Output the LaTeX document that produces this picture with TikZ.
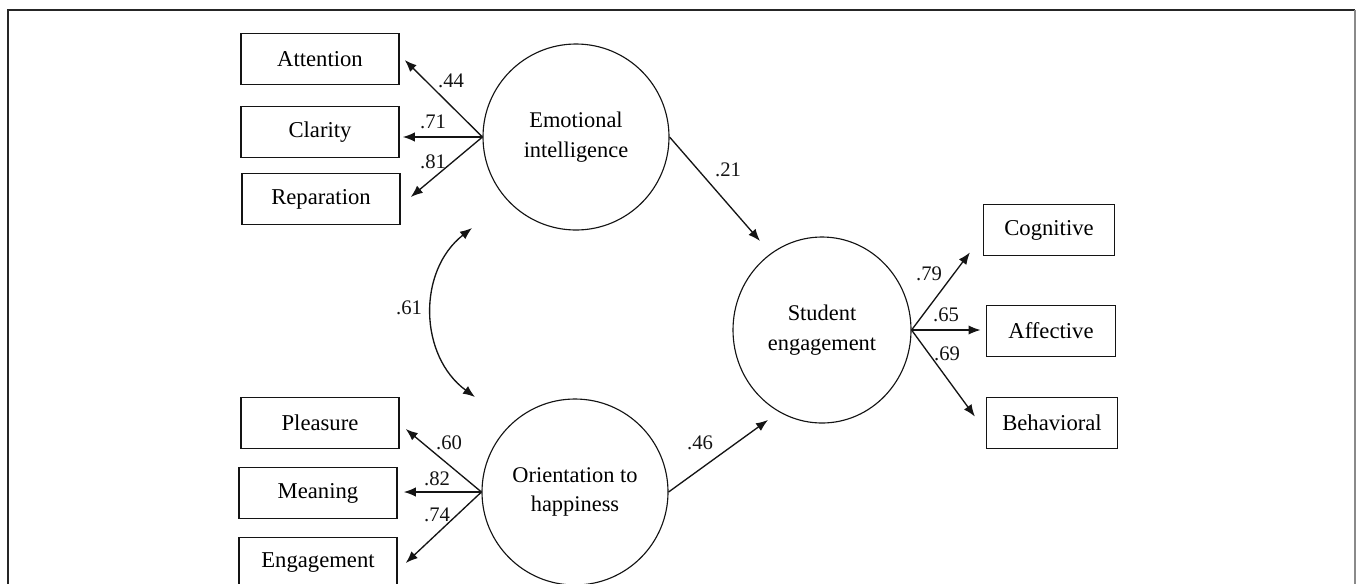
\documentclass[tikz,border=0pt]{standalone}
\usepackage{fontspec}
\setmainfont{Liberation Serif}
\usepackage{xcolor}
\usepackage{tikz}
\usetikzlibrary{positioning,arrows.meta,calc,shapes.geometric}
\definecolor{ink}{HTML}{141414}
\definecolor{framedark}{HTML}{262626}
\definecolor{framegray}{HTML}{8A8A8A}
\tikzset{
  indic/.style   = {rectangle, draw=ink, line width=1.15pt, minimum width=#1, minimum height=38.5pt,
                    inner sep=0pt, align=center, font=\fontsize{17}{20}\selectfont},
  indic/.default = 118.5pt,
  latent/.style  = {circle, draw=ink, line width=0.85pt, minimum size=139.5pt, inner sep=0pt,
                    align=center, font=\fontsize{16.8}{22}\selectfont},
  load/.style    = {-{Latex[length=9pt, width=7pt]}, line width=1pt, draw=ink},
  cov/.style     = {{Latex[length=9pt, width=7pt]}-{Latex[length=9pt, width=7pt]}, line width=1pt, draw=ink},
  coef/.style    = {font=\fontsize{15.5}{18}\selectfont, text=ink, inner sep=0pt},
}

\begin{document}
\begin{tikzpicture}[x=0.75pt, y=-0.75pt]
  \useasboundingbox (0,0) rectangle (1358,583);

  %% ---------------- frame ---------------------------------------------------------------
  \draw[framedark, line width=1.4pt] (8,620) -- (8,10) -- (1355,10);
  \draw[framegray, line width=1.8pt] (1355,10) -- (1355,620);

  %% ---------------- latent variables ----------------------------------------------------
  \node[latent] (emo) at (576,137) {Emotional\\intelligence};
  \node[latent] (ori) at (575,492) {Orientation to\\happiness};
  \node[latent, ellipse, minimum width=133.5pt, minimum height=139.5pt] (stud) at (822,330)
    {Student\\engagement};

  %% ---------------- indicators ----------------------------------------------------------
  \node[indic] (attn)  at (320,59)  {Attention};
  \node[indic] (clar)  at (320,132) {Clarity};
  \node[indic] (rep)   at (321,199) {Reparation};
  \node[indic] (pleas) at (320,423) {Pleasure};
  \node[indic] (mean)  at (318,493) {Meaning};
  \node[indic] (eng)   at (318,563) {Engagement};

  \node[indic=98pt] (cog) at (1049,230) {Cognitive};
  \node[indic=97pt] (aff) at (1051,331) {Affective};
  \node[indic=98pt] (beh) at (1052,423) {Behavioral};

  %% ---------------- loadings ------------------------------------------------------------
  \draw[load] (emo.west) -- ($(attn.east)+(5,1)$);
  \draw[load] (emo.west) -- ($(clar.east)+(3,5)$);
  \draw[load] (emo.west) -- ($(rep.east)+(10,-2)$);
  \node[coef] (l44) at (451,81)  {.44};
  \node[coef] (l71) at (433,122) {.71};
  \node[coef] (l81) at (433,162) {.81};

  \draw[load] (ori.west) -- ($(pleas.east)+(6,6)$);
  \draw[load] (ori.west) -- ($(mean.east)+(6,-1)$);
  \draw[load] (ori.west) -- ($(eng.east)+(8,0)$);
  \node[coef] (l60) at (449,443) {.60};
  \node[coef] (l82) at (437,479) {.82};
  \node[coef] (l74) at (437,515) {.74};

  \draw[load] (stud.east) -- ($(cog.south west)+(-13,-4)$);
  \draw[load] (stud.east) -- ($(aff.west)+(-5,-1)$);
  \draw[load] (stud.east) -- ($(beh.north west)+(-11,20)$);
  \node[coef] (l79) at (929,274) {.79};
  \node[coef] (l65) at (946,315) {.65};
  \node[coef] (l69) at (947,354) {.69};

  %% ---------------- structural paths ----------------------------------------------------
  \draw[load] (emo.east) -- ($(stud.center)+(-62,-89)$);
  \draw[load] (ori.east) -- ($(stud.center)+(-54,90)$);
  \node[coef] (p21) at (728,170) {.21};
  \node[coef] (p46) at (700,443) {.46};

  %% ---------------- covariance ----------------------------------------------------------
  \coordinate (covtop) at (472,228);
  \coordinate (covbot) at (475,397);
  \draw[cov] (covtop) .. controls (417,271) and (419,356) .. (covbot);
  \node[coef] (c61) at (409,308) {.61};
\end{tikzpicture}
\end{document}
